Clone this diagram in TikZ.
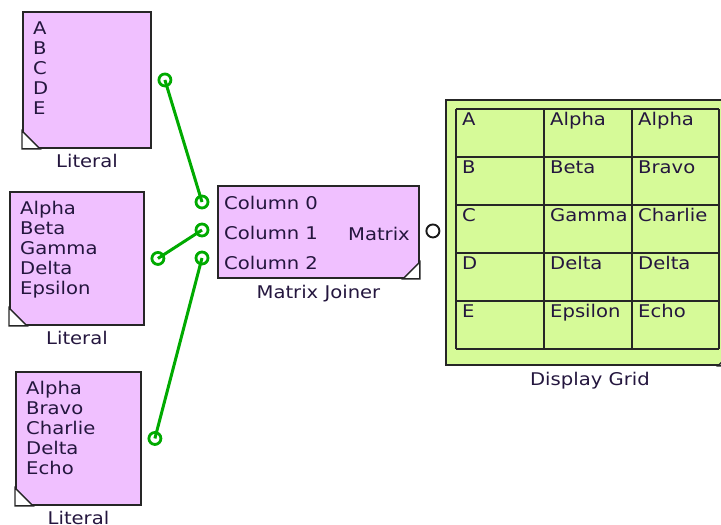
\documentclass[tikz,border=0pt]{standalone}
\usepackage{fontspec}
\setmainfont[FakeStretch=1.12]{DejaVu Sans}
\usepackage{xcolor}
\definecolor{ink}{RGB}{36,22,62}
\definecolor{lilac}{RGB}{240,192,255}
\definecolor{lime}{RGB}{214,250,152}
\definecolor{wiregreen}{RGB}{0,170,0}

\begin{document}
\begin{tikzpicture}[x=1pt,y=-1pt,font=\fontsize{17.5}{20}\selectfont,
   box/.style={draw=black!85,line width=1.9pt,inner sep=0pt,anchor=north west},
   txt/.style={text=ink,inner sep=0pt},
   port/.style={circle,draw=wiregreen,line width=2.8pt,minimum size=12pt,inner sep=0pt},
   outport/.style={circle,draw=black!90,fill=white,line width=1.9pt,minimum size=13pt,inner sep=0pt},
   wire/.style={wiregreen,line width=3pt},
   gridline/.style={draw=black!85,line width=1.8pt},
   corner/.style={fill=white,draw=black!85,line width=1.4pt}]
\useasboundingbox (0,0) rectangle (721,525);
% literal block: name, left, top, width, height, lines
\newcommand{\lit}[6]{%
  \node[box,fill=lilac,minimum width=#4pt,minimum height=#5pt] (#1) at (#2,#3) {};
  \draw[corner] (#1.south west) -- ++(0pt,18pt) -- ++(18pt,-18pt) -- cycle;
  \foreach \w [count=\k from 0] in {#6}{\node[txt,anchor=base west] at (#2+11,#3+23+20*\k) {\w};}
  \node[txt,anchor=base] (#1lbl) at ([yshift=-19pt]#1.south) {Literal};
  \node[port] (#1out) at ([xshift=13pt]#1.east) {};}
\lit{litA}{22}{11}{128}{136}{A,B,C,D,E}
\lit{litB}{9}{191}{134}{133}{Alpha,Beta,Gamma,Delta,Epsilon}
\lit{litC}{15}{371}{125}{133}{Alpha,Bravo,Charlie,Delta,Echo}
% matrix joiner
\node[box,fill=lilac,minimum width=201pt,minimum height=92pt] (mj) at (217,185) {};
\draw[corner] (mj.south east) -- ++(0pt,17pt) -- ++(-17pt,-17pt) -- cycle;
\foreach \k in {0,1,2}{
  \node[txt,anchor=base west] at (224,209+30*\k) {Column \k};
  \node[port] (mj\k) at (202,202+28*\k) {};}
\node[txt,anchor=base east] at (410,240) {Matrix};
\node[outport] (mjout) at ([xshift=13pt,yshift=1pt]mj.east) {};
\node[txt,anchor=base] (mjlbl) at ([yshift=-20pt]mj.south) {Matrix Joiner};
\draw[wire] (litAout.center) -- (mj0.center);
\draw[wire] (litBout.center) -- (mj1.center);
\draw[wire] (litCout.center) -- (mj2.center);
% display grid
\node[box,fill=lime,minimum width=288pt,minimum height=265pt] (dg) at (445,99) {};
\draw[corner] (dg.south east) -- ++(0pt,17pt) -- ++(-17pt,-17pt) -- cycle;
\foreach \xx in {456,544,632,719}{\draw[gridline] (\xx,109) -- (\xx,349);}
\foreach \yy in {109,157,205,253,301,349}{\draw[gridline] (456,\yy) -- (719,\yy);}
\foreach \a/\b/\c [count=\r from 0] in {A/Alpha/Alpha,B/Beta/Bravo,C/Gamma/Charlie,D/Delta/Delta,E/Epsilon/Echo}{
  \node[txt,anchor=base west] at (462,125+48*\r) {\a};
  \node[txt,anchor=base west] at (550,125+48*\r) {\b};
  \node[txt,anchor=base west] at (638,125+48*\r) {\c};}
\node[txt,anchor=base] (dglbl) at ([yshift=-20pt]dg.south) {Display Grid};
\end{tikzpicture}
\end{document}
